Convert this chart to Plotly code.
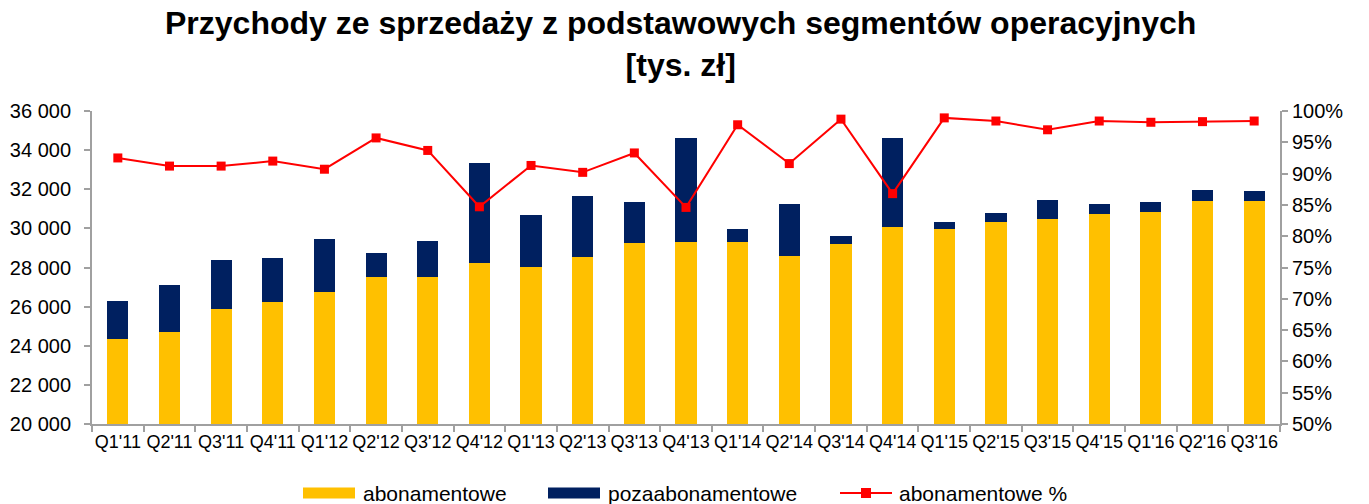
import plotly.graph_objects as go

quarters = ["Q1'11", "Q2'11", "Q3'11", "Q4'11", "Q1'12", "Q2'12", "Q3'12", "Q4'12",
            "Q1'13", "Q2'13", "Q3'13", "Q4'13", "Q1'14", "Q2'14", "Q3'14", "Q4'14",
            "Q1'15", "Q2'15", "Q3'15", "Q4'15", "Q1'16", "Q2'16", "Q3'16"]
abonamentowe = [24320, 24715, 25890, 26230, 26760, 27505, 27525, 28255,
                28015, 28560, 29275, 29295, 29295, 28595, 29190, 30075,
                29990, 30315, 30485, 30755, 30825, 31385, 31420]
pozaabonamentowe = [1980, 2385, 2500, 2280, 2720, 1225, 1820, 5090,
                    2655, 3100, 2095, 5325, 660, 2640, 395, 4565,
                    325, 495, 955, 495, 545, 565, 495]
abonamentowe_pct = [0.925, 0.912, 0.912, 0.920, 0.907, 0.957, 0.937, 0.847,
                    0.913, 0.902, 0.933, 0.846, 0.978, 0.916, 0.987, 0.868,
                    0.989, 0.984, 0.970, 0.984, 0.982, 0.983, 0.984]
series_names = ["abonamentowe", "pozaabonamentowe", "abonamentowe %"]
title_text = "Przychody ze sprzedaży z podstawowych segmentów operacyjnych<br>[tys. zł]"

FONT = "Liberation Sans, Arial, sans-serif"
AXIS_COL = "#A0A0A0"
YELLOW, NAVY, RED = "#FFC000", "#002060", "#FF0000"

W, H = 1369, 504
ML, MR, MT, MB = 92, 89, 111, 80
PW, PH = W - ML - MR, H - MT - MB


def px_x(px):
    return (px - ML) / PW


def px_y(py):
    return (H - MB - py) / PH


fig = go.Figure()
fig.add_trace(go.Bar(x=quarters, y=abonamentowe, name=series_names[0],
                     marker=dict(color=YELLOW, line=dict(width=0))))
fig.add_trace(go.Bar(x=quarters, y=pozaabonamentowe, name=series_names[1],
                     marker=dict(color=NAVY, line=dict(width=0))))
fig.add_trace(go.Scatter(x=quarters, y=abonamentowe_pct, name=series_names[2],
                         yaxis="y2", mode="lines+markers",
                         line=dict(color=RED, width=2),
                         marker=dict(symbol="square", size=9, color=RED)))

# custom legend (Excel-like wide swatches)
shapes = []
annotations = []
leg_y = 493
legend_items = [
    ("bar", YELLOW, 303, 355, 361, series_names[0]),
    ("bar", NAVY, 548, 600, 606, series_names[1]),
    ("line", RED, 840, 892, 897, series_names[2]),
]
for kind, col, x0, x1, tx, label in legend_items:
    if kind == "bar":
        shapes.append(dict(type="rect", xref="paper", yref="paper",
                           x0=px_x(x0), x1=px_x(x1), y0=px_y(leg_y + 5.5), y1=px_y(leg_y - 5.5),
                           fillcolor=col, line=dict(width=0)))
    else:
        shapes.append(dict(type="line", xref="paper", yref="paper",
                           x0=px_x(x0), x1=px_x(x1), y0=px_y(leg_y), y1=px_y(leg_y),
                           line=dict(color=col, width=2)))
        cx = (x0 + x1) / 2
        shapes.append(dict(type="rect", xref="paper", yref="paper",
                           x0=px_x(cx - 5), x1=px_x(cx + 5), y0=px_y(leg_y + 5), y1=px_y(leg_y - 5),
                           fillcolor=col, line=dict(width=0)))
    annotations.append(dict(text=label, xref="paper", yref="paper", x=px_x(tx), y=px_y(leg_y),
                            xanchor="left", yanchor="middle", showarrow=False,
                            font=dict(size=21, family=FONT, color="black")))

annotations.append(dict(text="<b>" + title_text + "</b>", xref="paper", yref="paper",
                        x=px_x(680), y=px_y(3), xanchor="center", yanchor="top",
                        showarrow=False, align="center",
                        font=dict(size=32, family=FONT, color="black")))

fig.update_layout(
    width=W, height=H,
    barmode="stack", bargap=0.59,
    separators=", ",
    showlegend=False,
    paper_bgcolor="white", plot_bgcolor="white",
    font=dict(family=FONT, color="black"),
    margin=dict(l=ML, r=MR, t=MT, b=MB),
    shapes=shapes,
    annotations=annotations,
    xaxis=dict(type="category", range=[-0.5, len(quarters) - 0.5],
               showline=True, linecolor=AXIS_COL, linewidth=2,
               ticks="outside", tickson="boundaries", ticklen=6, tickcolor=AXIS_COL,
               tickwidth=2, tickfont=dict(size=18), tickangle=0, showgrid=False,
               automargin=False),
    yaxis=dict(range=[20000, 36000], dtick=2000, tickformat=",d",
               showline=True, linecolor=AXIS_COL, linewidth=2,
               ticks="outside", ticklen=6, tickcolor=AXIS_COL, tickwidth=2,
               ticklabelstandoff=9,
               tickfont=dict(size=20), showgrid=False, zeroline=False, automargin=False),
    yaxis2=dict(range=[0.5, 1.0], dtick=0.05, tickformat=".0%", overlaying="y",
                side="right", showline=True, linecolor=AXIS_COL, linewidth=2,
                ticks="outside", ticklen=6, tickcolor=AXIS_COL, tickwidth=2,
                tickfont=dict(size=20), showgrid=False, zeroline=False, automargin=False),
)

fig.write_html("out.html", config={"displayModeBar": False},
               post_script="document.body.style.margin='0';document.body.style.overflow='hidden';")
